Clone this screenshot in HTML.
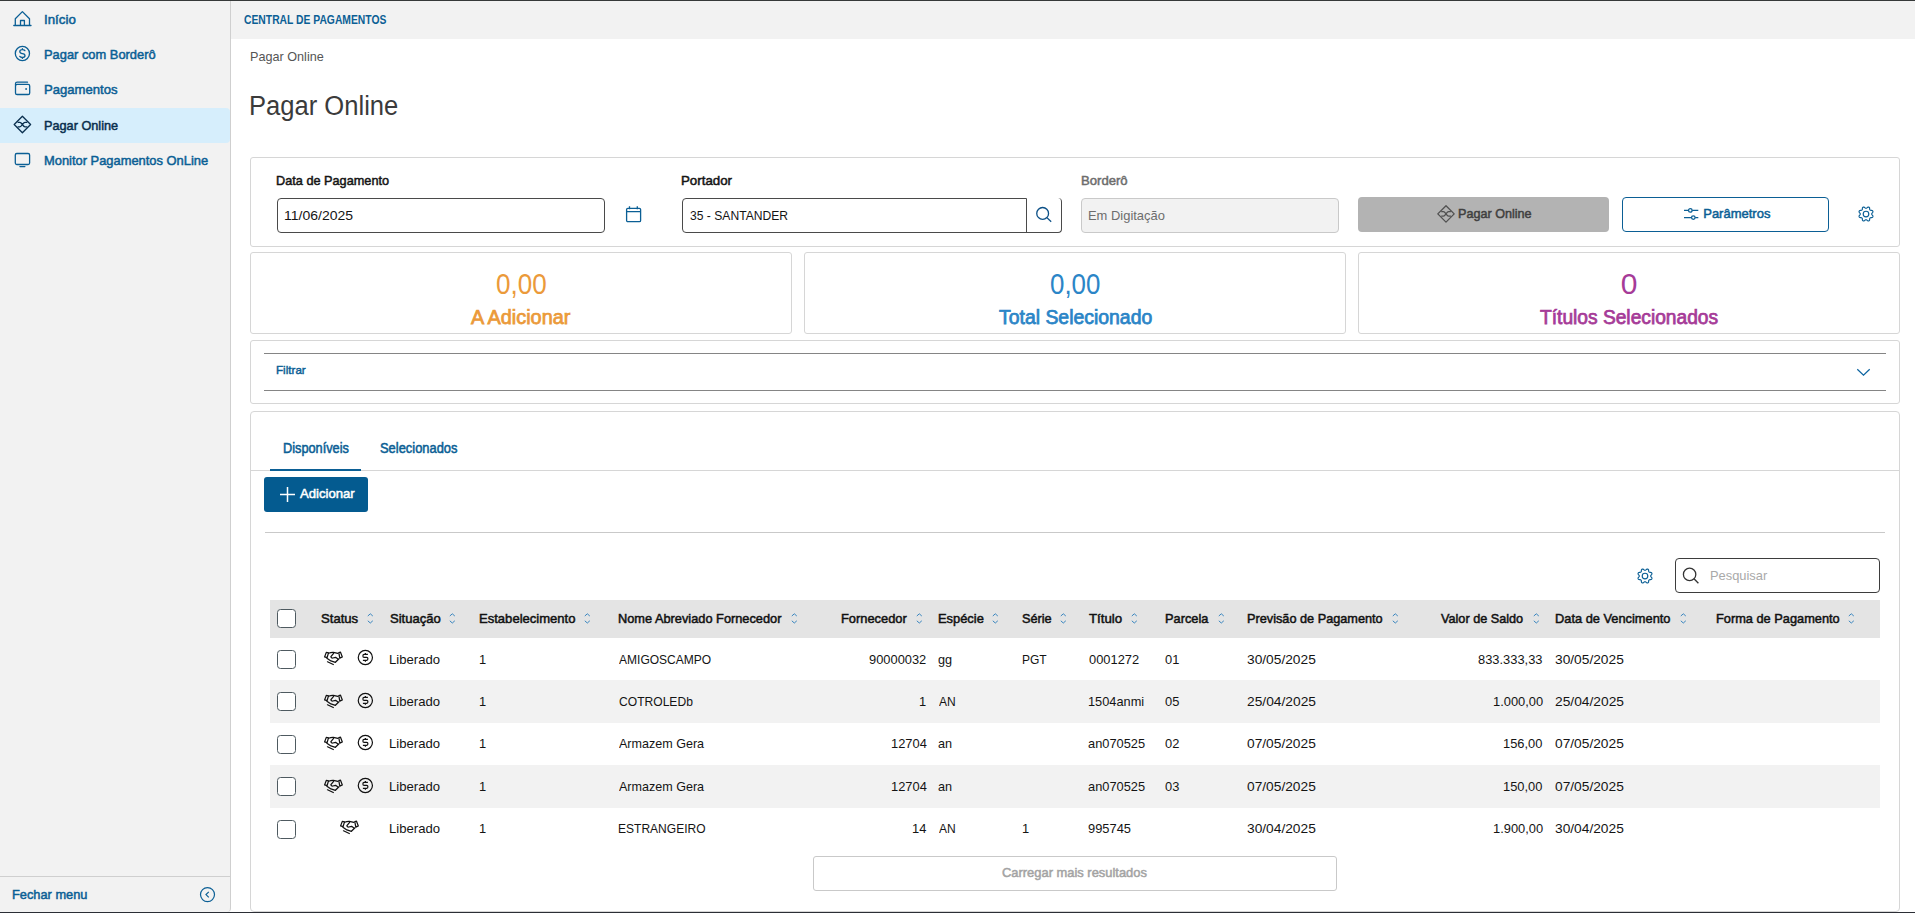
<!DOCTYPE html><html><head><meta charset="utf-8"><style>
html,body{margin:0;padding:0;width:1915px;height:913px;overflow:hidden;background:#fff}
.t{position:absolute;white-space:nowrap;line-height:0;transform-origin:0 0;font-family:"Liberation Sans",sans-serif}
svg{position:absolute}
</style></head><body>
<div style="position:absolute;left:0px;top:0px;width:1915px;height:913px;box-sizing:border-box;background:#fff"></div>
<div style="position:absolute;left:0px;top:1px;width:231px;height:911px;box-sizing:border-box;background:#f2f2f2;border-right:1px solid #cfcfcf;border-bottom-right-radius:4px"></div>
<div style="position:absolute;left:0px;top:876px;width:230px;height:1px;box-sizing:border-box;background:#cfcfcf"></div>
<div style="position:absolute;left:231px;top:1px;width:1684px;height:38px;box-sizing:border-box;background:#f2f2f2"></div>
<div style="position:absolute;left:0px;top:0px;width:1915px;height:1px;box-sizing:border-box;background:#363939"></div>
<div style="position:absolute;left:0px;top:912px;width:1915px;height:1px;box-sizing:border-box;background:#2b2e35"></div>
<div style="position:absolute;left:0px;top:108px;width:230px;height:35px;box-sizing:border-box;background:#d6eefc;border-top-right-radius:4px;border-bottom-right-radius:4px"></div>
<div class="t" style="left:43.78px;top:19.90px;font-size:13px;color:#0b5f95;font-weight:400;-webkit-text-stroke:0.500px #0b5f95;transform:scaleX(1.0225);">Início</div>
<div class="t" style="left:43.94px;top:54.70px;font-size:13px;color:#0b5f95;font-weight:400;-webkit-text-stroke:0.500px #0b5f95;transform:scaleX(0.9899);">Pagar com Borderô</div>
<div class="t" style="left:43.93px;top:89.50px;font-size:13px;color:#0b5f95;font-weight:400;-webkit-text-stroke:0.500px #0b5f95;transform:scaleX(1.0075);">Pagamentos</div>
<div class="t" style="left:43.96px;top:125.50px;font-size:13px;color:#0a2f4e;font-weight:400;-webkit-text-stroke:0.500px #0a2f4e;transform:scaleX(0.9765);">Pagar Online</div>
<div class="t" style="left:43.94px;top:161.00px;font-size:13px;color:#0b5f95;font-weight:400;-webkit-text-stroke:0.500px #0b5f95;transform:scaleX(0.9918);">Monitor Pagamentos OnLine</div>
<svg style="position:absolute;left:0px;top:0px;overflow:visible" width="40" height="180" viewBox="0 0 40 180">
<g fill="none" stroke="#0b5f95" stroke-width="1.3" stroke-linecap="round" stroke-linejoin="round">
<path d="M15.3 18.8 L22.4 11.6 L29.5 18.8 M15.3 18.8 V25.3 M29.5 18.8 V25.3 M13.8 25.5 H31 M20.5 25.3 V20.5 H24.4 V25.3"/>
<circle cx="22.4" cy="53.5" r="7.1"/>
<path d="M24.9 50.6 Q24.2 49.6 22.4 49.6 Q19.8 49.6 19.8 51.6 Q19.8 53.4 22.4 53.6 Q25 53.8 25 55.7 Q25 57.5 22.4 57.5 Q20.5 57.5 19.8 56.4 M22.4 48.7 V49.6 M22.4 57.5 V58.4"/>
<rect x="15.5" y="84.3" width="14.2" height="10.2" rx="1.6"/>
<path d="M15.5 85.5 V83.8 Q15.5 82.2 17.2 82.2 H27.5"/>
</g>
<circle cx="26.1" cy="89" r="0.9" fill="#0b5f95"/>
<g fill="none" stroke="#0a2f4e" stroke-width="1.3" stroke-linejoin="round">
<path d="M22.4 116.3 L30.6 124.5 L22.4 132.7 L14.2 124.5 Z"/>
<path d="M17.6 122.3 H19.8 Q20.8 122.3 22.4 124.5 Q24 126.8 25 126.8 H27.3 M17.6 126.8 H19.8 Q20.8 126.8 22.4 124.5 Q24 122.3 25 122.3 H27.3"/>
</g>
<g fill="none" stroke="#0b5f95" stroke-width="1.3" stroke-linecap="round" stroke-linejoin="round">
<rect x="15.3" y="153.5" width="14.3" height="11" rx="1.5"/>
<path d="M19.9 166.6 H24.9"/>
</g>
</svg>
<div class="t" style="left:11.95px;top:894.50px;font-size:13px;color:#0b5f95;font-weight:400;-webkit-text-stroke:0.500px #0b5f95;transform:scaleX(0.9845);">Fechar menu</div>
<svg style="position:absolute;left:199px;top:887px;overflow:visible" width="16" height="16" viewBox="0 0 16 16"><circle cx="8.5" cy="7.6" r="7" fill="none" stroke="#0b5f95" stroke-width="1.2"/><path d="M9.8 4.8 L7 7.6 L9.8 10.4" fill="none" stroke="#0b5f95" stroke-width="1.2"/></svg>
<div class="t" style="left:243.88px;top:20.04px;font-size:12.3px;color:#0b5f95;font-weight:700;transform:scaleX(0.8404);">CENTRAL DE PAGAMENTOS</div>
<div class="t" style="left:249.56px;top:56.90px;font-size:13px;color:#555;font-weight:400;transform:scaleX(0.9725);">Pagar Online</div>
<div class="t" style="left:248.50px;top:105.94px;font-size:27px;color:#3b3b3b;font-weight:400;transform:scaleX(0.9475);">Pagar Online</div>
<div style="position:absolute;left:250px;top:157px;width:1650px;height:90px;box-sizing:border-box;border:1px solid #d6d6d6;border-radius:3px"></div>
<div class="t" style="left:276.06px;top:181.10px;font-size:13px;color:#141414;font-weight:400;-webkit-text-stroke:0.500px #141414;transform:scaleX(0.9778);">Data de Pagamento</div>
<div style="position:absolute;left:277px;top:198px;width:328px;height:35px;box-sizing:border-box;border:1px solid #4a4a4a;border-radius:4px"></div>
<div class="t" style="left:283.54px;top:215.70px;font-size:13px;color:#141414;font-weight:400;transform:scaleX(1.0770);">11/06/2025</div>
<svg style="position:absolute;left:624px;top:205px;overflow:visible" width="19" height="19" viewBox="0 0 19 19"><g fill="none" stroke="#0b5f95" stroke-width="1.3"><rect x="2.6" y="3.3" width="14" height="13.3" rx="1.2"/><path d="M2.6 6.7 H16.6 M5.5 1.2 V4.3 M13.3 1.2 V4.3"/></g></svg>
<div class="t" style="left:681.31px;top:181.00px;font-size:13px;color:#141414;font-weight:400;-webkit-text-stroke:0.500px #141414;transform:scaleX(1.0230);">Portador</div>
<div style="position:absolute;left:682px;top:198px;width:345px;height:35px;box-sizing:border-box;border:1px solid #4a4a4a;border-radius:4px 0 0 4px"></div>
<div style="position:absolute;left:1026px;top:198px;width:36px;height:35px;box-sizing:border-box;border-right:1px solid #4a4a4a;border-bottom:1px solid #4a4a4a;border-radius:0 4px 4px 0"></div>
<div class="t" style="left:689.74px;top:215.70px;font-size:13px;color:#141414;font-weight:400;transform:scaleX(0.9315);">35 - SANTANDER</div>
<svg style="position:absolute;left:1034px;top:205px;overflow:visible" width="19" height="19" viewBox="0 0 19 19"><g fill="none" stroke="#0b4f86" stroke-width="1.3"><circle cx="8.65" cy="8.4" r="5.9"/><path d="M12.9 12.6 L17.2 16.8"/></g></svg>
<div class="t" style="left:1080.93px;top:181.00px;font-size:13px;color:#6d6d6d;font-weight:400;-webkit-text-stroke:0.500px #6d6d6d;transform:scaleX(1.0077);">Borderô</div>
<div style="position:absolute;left:1081px;top:198px;width:258px;height:35px;box-sizing:border-box;border:1px solid #c9c9c9;border-radius:4px;background:#f2f2f2"></div>
<div class="t" style="left:1087.94px;top:215.70px;font-size:13px;color:#6d6d6d;font-weight:400;transform:scaleX(0.9946);">Em Digitação</div>
<div style="position:absolute;left:1358px;top:197px;width:251px;height:35px;box-sizing:border-box;background:#b3b3b3;border-radius:4px"></div>
<svg style="position:absolute;left:1436px;top:204px;overflow:visible" width="20" height="20" viewBox="0 0 20 20"><g fill="none" stroke="#505050" stroke-width="1.3" stroke-linejoin="round"><path d="M10 1.7 L18.2 9.9 L10 18.1 L1.8 9.9 Z"/><path d="M5.2 7.7 H7.4 Q8.4 7.7 10 9.9 Q11.6 12.2 12.6 12.2 H14.9 M5.2 12.2 H7.4 Q8.4 12.2 10 9.9 Q11.6 7.7 12.6 7.7 H14.9"/></g></svg>
<div class="t" style="left:1458.17px;top:214.00px;font-size:13px;color:#404040;font-weight:400;-webkit-text-stroke:0.500px #404040;transform:scaleX(0.9698);">Pagar Online</div>
<div style="position:absolute;left:1622px;top:197px;width:207px;height:35px;box-sizing:border-box;border:1px solid #0b5f95;border-radius:4px"></div>
<svg style="position:absolute;left:1682px;top:205px;overflow:visible" width="18" height="18" viewBox="0 0 18 18"><g fill="none" stroke="#0b5f95" stroke-width="1.3"><path d="M2 5.4 H6.5 M10.2 5.4 H16.3 M2 12.6 H9.5 M13.2 12.6 H16.3"/><circle cx="8.3" cy="5.4" r="1.8"/><circle cx="11.3" cy="12.6" r="1.8"/></g></svg>
<div class="t" style="left:1703.23px;top:214.00px;font-size:13px;color:#0b5f95;font-weight:400;-webkit-text-stroke:0.500px #0b5f95;">Parâmetros</div>
<svg style="position:absolute;left:1856.5px;top:204.5px;overflow:visible" width="18" height="18" viewBox="0 0 18 18"><g fill="none" stroke="#0b5f95" stroke-width="1.15" stroke-linejoin="round"><path d="M9.00 3.30 L9.30 3.27 L9.62 3.15 L9.97 2.87 L10.39 2.47 L10.83 2.16 L11.26 2.05 L11.65 2.10 L12.01 2.25 L12.32 2.49 L12.54 2.87 L12.63 3.40 L12.65 3.98 L12.70 4.43 L12.84 4.73 L13.03 4.97 L13.27 5.16 L13.57 5.30 L14.02 5.35 L14.60 5.37 L15.13 5.46 L15.51 5.68 L15.75 5.99 L15.90 6.35 L15.95 6.74 L15.84 7.17 L15.53 7.61 L15.13 8.03 L14.85 8.38 L14.73 8.70 L14.70 9.00 L14.73 9.30 L14.85 9.62 L15.13 9.97 L15.53 10.39 L15.84 10.83 L15.95 11.26 L15.90 11.65 L15.75 12.01 L15.51 12.32 L15.13 12.54 L14.60 12.63 L14.02 12.65 L13.57 12.70 L13.27 12.84 L13.03 13.03 L12.84 13.27 L12.70 13.57 L12.65 14.02 L12.63 14.60 L12.54 15.13 L12.32 15.51 L12.01 15.75 L11.65 15.90 L11.26 15.95 L10.83 15.84 L10.39 15.53 L9.97 15.13 L9.62 14.85 L9.30 14.73 L9.00 14.70 L8.70 14.73 L8.38 14.85 L8.03 15.13 L7.61 15.53 L7.17 15.84 L6.74 15.95 L6.35 15.90 L5.99 15.75 L5.68 15.51 L5.46 15.13 L5.37 14.60 L5.35 14.02 L5.30 13.57 L5.16 13.27 L4.97 13.03 L4.73 12.84 L4.43 12.70 L3.98 12.65 L3.40 12.63 L2.87 12.54 L2.49 12.32 L2.25 12.01 L2.10 11.65 L2.05 11.26 L2.16 10.83 L2.47 10.39 L2.87 9.97 L3.15 9.62 L3.27 9.30 L3.30 9.00 L3.27 8.70 L3.15 8.38 L2.87 8.03 L2.47 7.61 L2.16 7.17 L2.05 6.74 L2.10 6.35 L2.25 5.99 L2.49 5.68 L2.87 5.46 L3.40 5.37 L3.98 5.35 L4.43 5.30 L4.73 5.16 L4.97 4.97 L5.16 4.73 L5.30 4.43 L5.35 3.98 L5.37 3.40 L5.46 2.87 L5.68 2.49 L5.99 2.25 L6.35 2.10 L6.74 2.05 L7.17 2.16 L7.61 2.47 L8.03 2.87 L8.38 3.15 L8.70 3.27 Z"/><circle cx="9" cy="9" r="2.8"/></g></svg>
<div style="position:absolute;left:250px;top:252px;width:542px;height:82px;box-sizing:border-box;border:1px solid #d6d6d6;border-radius:3px"></div>
<div class="t" style="left:495.63px;top:284.41px;font-size:30px;color:#eb9a3a;font-weight:400;transform:scaleX(0.8686);">0,00</div>
<div class="t" style="left:471.46px;top:317.24px;font-size:19.5px;color:#eb9a3a;font-weight:400;-webkit-text-stroke:0.750px #eb9a3a;transform:scaleX(1.0184);">A Adicionar</div>
<div style="position:absolute;left:804px;top:252px;width:542px;height:82px;box-sizing:border-box;border:1px solid #d6d6d6;border-radius:3px"></div>
<div class="t" style="left:1049.79px;top:284.41px;font-size:30px;color:#2b85c7;font-weight:400;transform:scaleX(0.8632);">0,00</div>
<div class="t" style="left:998.57px;top:317.24px;font-size:19.5px;color:#2b85c7;font-weight:400;-webkit-text-stroke:0.750px #2b85c7;transform:scaleX(0.9954);">Total Selecionado</div>
<div style="position:absolute;left:1358px;top:252px;width:542px;height:82px;box-sizing:border-box;border:1px solid #d6d6d6;border-radius:3px"></div>
<div class="t" style="left:1620.64px;top:284.41px;font-size:30px;color:#a63b98;font-weight:400;">0</div>
<div class="t" style="left:1540.08px;top:317.24px;font-size:19.5px;color:#a63b98;font-weight:400;-webkit-text-stroke:0.750px #a63b98;transform:scaleX(0.9839);">Títulos Selecionados</div>
<div style="position:absolute;left:250px;top:340px;width:1650px;height:64px;box-sizing:border-box;border:1px solid #d6d6d6;border-radius:3px"></div>
<div style="position:absolute;left:264px;top:353px;width:1622px;height:1px;box-sizing:border-box;background:#858585"></div>
<div style="position:absolute;left:264px;top:390px;width:1622px;height:1px;box-sizing:border-box;background:#858585"></div>
<div class="t" style="left:275.95px;top:370.02px;font-size:11.5px;color:#0b5f95;font-weight:400;-webkit-text-stroke:0.442px #0b5f95;transform:scaleX(1.0122);">Filtrar</div>
<svg style="position:absolute;left:1856px;top:367px;overflow:visible" width="15" height="10" viewBox="0 0 15 10"><path d="M1.3 2.3 L7.5 8.1 L13.7 2.3" fill="none" stroke="#0c64a0" stroke-width="1.25"/></svg>
<div style="position:absolute;left:250px;top:411px;width:1650px;height:501px;box-sizing:border-box;border:1px solid #d6d6d6;border-radius:4px"></div>
<div class="t" style="left:282.85px;top:448.25px;font-size:14px;color:#0b5f95;font-weight:400;-webkit-text-stroke:0.538px #0b5f95;transform:scaleX(0.9107);">Disponíveis</div>
<div class="t" style="left:379.82px;top:448.25px;font-size:14px;color:#0b5f95;font-weight:400;-webkit-text-stroke:0.538px #0b5f95;transform:scaleX(0.9213);">Selecionados</div>
<div style="position:absolute;left:251px;top:470px;width:1648px;height:1px;box-sizing:border-box;background:#d6d6d6"></div>
<div style="position:absolute;left:270px;top:469px;width:91px;height:2px;box-sizing:border-box;background:#0b5f95"></div>
<div style="position:absolute;left:264px;top:477px;width:104px;height:35px;box-sizing:border-box;background:#045b90;border-radius:3px"></div>
<svg style="position:absolute;left:279px;top:486px;overflow:visible" width="17" height="17" viewBox="0 0 17 17"><path d="M8.5 1 V16 M1 8.5 H16" stroke="#fff" stroke-width="1.5" fill="none"/></svg>
<div class="t" style="left:299.97px;top:494.00px;font-size:13px;color:#fff;font-weight:400;-webkit-text-stroke:0.500px #fff;transform:scaleX(1.0100);">Adicionar</div>
<div style="position:absolute;left:265px;top:532px;width:1620px;height:1px;box-sizing:border-box;background:#c9c9c9"></div>
<svg style="position:absolute;left:1636.2px;top:566.5px;overflow:visible" width="18" height="18" viewBox="0 0 18 18"><g fill="none" stroke="#0b5f95" stroke-width="1.15" stroke-linejoin="round"><path d="M9.00 3.30 L9.30 3.27 L9.62 3.15 L9.97 2.87 L10.39 2.47 L10.83 2.16 L11.26 2.05 L11.65 2.10 L12.01 2.25 L12.32 2.49 L12.54 2.87 L12.63 3.40 L12.65 3.98 L12.70 4.43 L12.84 4.73 L13.03 4.97 L13.27 5.16 L13.57 5.30 L14.02 5.35 L14.60 5.37 L15.13 5.46 L15.51 5.68 L15.75 5.99 L15.90 6.35 L15.95 6.74 L15.84 7.17 L15.53 7.61 L15.13 8.03 L14.85 8.38 L14.73 8.70 L14.70 9.00 L14.73 9.30 L14.85 9.62 L15.13 9.97 L15.53 10.39 L15.84 10.83 L15.95 11.26 L15.90 11.65 L15.75 12.01 L15.51 12.32 L15.13 12.54 L14.60 12.63 L14.02 12.65 L13.57 12.70 L13.27 12.84 L13.03 13.03 L12.84 13.27 L12.70 13.57 L12.65 14.02 L12.63 14.60 L12.54 15.13 L12.32 15.51 L12.01 15.75 L11.65 15.90 L11.26 15.95 L10.83 15.84 L10.39 15.53 L9.97 15.13 L9.62 14.85 L9.30 14.73 L9.00 14.70 L8.70 14.73 L8.38 14.85 L8.03 15.13 L7.61 15.53 L7.17 15.84 L6.74 15.95 L6.35 15.90 L5.99 15.75 L5.68 15.51 L5.46 15.13 L5.37 14.60 L5.35 14.02 L5.30 13.57 L5.16 13.27 L4.97 13.03 L4.73 12.84 L4.43 12.70 L3.98 12.65 L3.40 12.63 L2.87 12.54 L2.49 12.32 L2.25 12.01 L2.10 11.65 L2.05 11.26 L2.16 10.83 L2.47 10.39 L2.87 9.97 L3.15 9.62 L3.27 9.30 L3.30 9.00 L3.27 8.70 L3.15 8.38 L2.87 8.03 L2.47 7.61 L2.16 7.17 L2.05 6.74 L2.10 6.35 L2.25 5.99 L2.49 5.68 L2.87 5.46 L3.40 5.37 L3.98 5.35 L4.43 5.30 L4.73 5.16 L4.97 4.97 L5.16 4.73 L5.30 4.43 L5.35 3.98 L5.37 3.40 L5.46 2.87 L5.68 2.49 L5.99 2.25 L6.35 2.10 L6.74 2.05 L7.17 2.16 L7.61 2.47 L8.03 2.87 L8.38 3.15 L8.70 3.27 Z"/><circle cx="9" cy="9" r="2.8"/></g></svg>
<div style="position:absolute;left:1675px;top:558px;width:205px;height:35px;box-sizing:border-box;border:1px solid #3d3d3d;border-radius:4px"></div>
<svg style="position:absolute;left:1682px;top:567px;overflow:visible" width="19" height="19" viewBox="0 0 19 19"><g fill="none" stroke="#333" stroke-width="1.3"><circle cx="7.6" cy="7.4" r="6.2"/><path d="M12 11.8 L16.4 16.2"/></g></svg>
<div class="t" style="left:1710.34px;top:575.80px;font-size:13px;color:#a9a9a9;font-weight:400;transform:scaleX(0.9905);">Pesquisar</div>
<div style="position:absolute;left:270px;top:600px;width:1610px;height:37.8px;box-sizing:border-box;background:#e4e4e4"></div>
<div style="position:absolute;left:277px;top:609px;width:19px;height:19px;box-sizing:border-box;border:1.6px solid #4e5a60;border-radius:3.5px;background:#fff"></div>
<div class="t" style="left:320.91px;top:618.80px;font-size:13px;color:#111;font-weight:400;-webkit-text-stroke:0.500px #111;transform:scaleX(1.0083);">Status</div>
<svg style="position:absolute;left:367.4px;top:613.3px;overflow:visible" width="7" height="11" viewBox="0 0 7 11"><g fill="none" stroke="#2f7fbd" stroke-width="0.95"><path d="M0.8 3 L3.3 0.8 L5.8 3 M0.8 7.8 L3.3 10 L5.8 7.8"/></g></svg>
<div class="t" style="left:389.51px;top:618.80px;font-size:13px;color:#111;font-weight:400;-webkit-text-stroke:0.500px #111;transform:scaleX(1.0048);">Situação</div>
<svg style="position:absolute;left:449.3px;top:613.3px;overflow:visible" width="7" height="11" viewBox="0 0 7 11"><g fill="none" stroke="#2f7fbd" stroke-width="0.95"><path d="M0.8 3 L3.3 0.8 L5.8 3 M0.8 7.8 L3.3 10 L5.8 7.8"/></g></svg>
<div class="t" style="left:478.63px;top:618.80px;font-size:13px;color:#111;font-weight:400;-webkit-text-stroke:0.500px #111;transform:scaleX(1.0041);">Estabelecimento</div>
<svg style="position:absolute;left:584.1px;top:613.3px;overflow:visible" width="7" height="11" viewBox="0 0 7 11"><g fill="none" stroke="#2f7fbd" stroke-width="0.95"><path d="M0.8 3 L3.3 0.8 L5.8 3 M0.8 7.8 L3.3 10 L5.8 7.8"/></g></svg>
<div class="t" style="left:618.25px;top:618.80px;font-size:13px;color:#111;font-weight:400;-webkit-text-stroke:0.500px #111;transform:scaleX(0.9834);">Nome Abreviado Fornecedor</div>
<svg style="position:absolute;left:791.0px;top:613.3px;overflow:visible" width="7" height="11" viewBox="0 0 7 11"><g fill="none" stroke="#2f7fbd" stroke-width="0.95"><path d="M0.8 3 L3.3 0.8 L5.8 3 M0.8 7.8 L3.3 10 L5.8 7.8"/></g></svg>
<div class="t" style="left:840.95px;top:618.80px;font-size:13px;color:#111;font-weight:400;-webkit-text-stroke:0.500px #111;transform:scaleX(0.9891);">Fornecedor</div>
<svg style="position:absolute;left:915.9px;top:613.3px;overflow:visible" width="7" height="11" viewBox="0 0 7 11"><g fill="none" stroke="#2f7fbd" stroke-width="0.95"><path d="M0.8 3 L3.3 0.8 L5.8 3 M0.8 7.8 L3.3 10 L5.8 7.8"/></g></svg>
<div class="t" style="left:937.74px;top:618.80px;font-size:13px;color:#111;font-weight:400;-webkit-text-stroke:0.500px #111;transform:scaleX(0.9910);">Espécie</div>
<svg style="position:absolute;left:992.4px;top:613.3px;overflow:visible" width="7" height="11" viewBox="0 0 7 11"><g fill="none" stroke="#2f7fbd" stroke-width="0.95"><path d="M0.8 3 L3.3 0.8 L5.8 3 M0.8 7.8 L3.3 10 L5.8 7.8"/></g></svg>
<div class="t" style="left:1021.93px;top:618.80px;font-size:13px;color:#111;font-weight:400;-webkit-text-stroke:0.500px #111;transform:scaleX(0.9765);">Série</div>
<svg style="position:absolute;left:1060.4px;top:613.3px;overflow:visible" width="7" height="11" viewBox="0 0 7 11"><g fill="none" stroke="#2f7fbd" stroke-width="0.95"><path d="M0.8 3 L3.3 0.8 L5.8 3 M0.8 7.8 L3.3 10 L5.8 7.8"/></g></svg>
<div class="t" style="left:1088.71px;top:618.80px;font-size:13px;color:#111;font-weight:400;-webkit-text-stroke:0.500px #111;transform:scaleX(1.0191);">Título</div>
<svg style="position:absolute;left:1130.5px;top:613.3px;overflow:visible" width="7" height="11" viewBox="0 0 7 11"><g fill="none" stroke="#2f7fbd" stroke-width="0.95"><path d="M0.8 3 L3.3 0.8 L5.8 3 M0.8 7.8 L3.3 10 L5.8 7.8"/></g></svg>
<div class="t" style="left:1164.75px;top:618.80px;font-size:13px;color:#111;font-weight:400;-webkit-text-stroke:0.500px #111;transform:scaleX(0.9830);">Parcela</div>
<svg style="position:absolute;left:1217.5px;top:613.3px;overflow:visible" width="7" height="11" viewBox="0 0 7 11"><g fill="none" stroke="#2f7fbd" stroke-width="0.95"><path d="M0.8 3 L3.3 0.8 L5.8 3 M0.8 7.8 L3.3 10 L5.8 7.8"/></g></svg>
<div class="t" style="left:1246.86px;top:618.80px;font-size:13px;color:#111;font-weight:400;-webkit-text-stroke:0.500px #111;transform:scaleX(0.9778);">Previsão de Pagamento</div>
<svg style="position:absolute;left:1391.5px;top:613.3px;overflow:visible" width="7" height="11" viewBox="0 0 7 11"><g fill="none" stroke="#2f7fbd" stroke-width="0.95"><path d="M0.8 3 L3.3 0.8 L5.8 3 M0.8 7.8 L3.3 10 L5.8 7.8"/></g></svg>
<div class="t" style="left:1441.35px;top:618.80px;font-size:13px;color:#111;font-weight:400;-webkit-text-stroke:0.500px #111;transform:scaleX(0.9745);">Valor de Saldo</div>
<svg style="position:absolute;left:1532.5px;top:613.3px;overflow:visible" width="7" height="11" viewBox="0 0 7 11"><g fill="none" stroke="#2f7fbd" stroke-width="0.95"><path d="M0.8 3 L3.3 0.8 L5.8 3 M0.8 7.8 L3.3 10 L5.8 7.8"/></g></svg>
<div class="t" style="left:1554.85px;top:618.80px;font-size:13px;color:#111;font-weight:400;-webkit-text-stroke:0.500px #111;transform:scaleX(0.9863);">Data de Vencimento</div>
<svg style="position:absolute;left:1679.5px;top:613.3px;overflow:visible" width="7" height="11" viewBox="0 0 7 11"><g fill="none" stroke="#2f7fbd" stroke-width="0.95"><path d="M0.8 3 L3.3 0.8 L5.8 3 M0.8 7.8 L3.3 10 L5.8 7.8"/></g></svg>
<div class="t" style="left:1715.65px;top:618.80px;font-size:13px;color:#111;font-weight:400;-webkit-text-stroke:0.500px #111;transform:scaleX(0.9836);">Forma de Pagamento</div>
<svg style="position:absolute;left:1848.3px;top:613.3px;overflow:visible" width="7" height="11" viewBox="0 0 7 11"><g fill="none" stroke="#2f7fbd" stroke-width="0.95"><path d="M0.8 3 L3.3 0.8 L5.8 3 M0.8 7.8 L3.3 10 L5.8 7.8"/></g></svg>
<div style="position:absolute;left:277px;top:649.8px;width:19px;height:19px;box-sizing:border-box;border:1.6px solid #4e5a60;border-radius:3.5px;background:#fff"></div>
<svg style="position:absolute;left:322px;top:649.3px;overflow:visible" width="22" height="18" viewBox="0 0 22 18"><g fill="none" stroke="#111" stroke-width="1.25" stroke-linejoin="round" stroke-linecap="round"><path d="M4.3 3.4 L6.5 3.8 L5.1 8.7 L2.6 7.9 Z M16.8 3.6 L18.5 3.2 L20.3 7.9 L17.8 9.1 Z"/><path d="M6.6 4.3 Q9 3.2 11.4 3.35 Q13.6 3.6 15.9 4.4 M11.6 4.3 L8.9 7.6 Q9.3 9.4 10.8 9 L13.6 8.3 L16.3 10.3 M4.9 9.2 L8.9 11.9 L13.4 13.3 L17 9.8 M5.5 12.8 L11.3 15.5"/></g></svg>
<svg style="position:absolute;left:355px;top:647.3px;overflow:visible" width="21" height="21" viewBox="0 0 21 21"><g fill="none" stroke="#111" stroke-width="1.2"><circle cx="10.35" cy="10.5" r="7.1"/><path d="M12.9 7.4 H9.1 Q7.9 7.4 7.9 8.9 Q7.9 10.4 9.1 10.4 H11.7 Q12.9 10.4 12.9 11.85 Q12.9 13.3 11.7 13.3 H7.9 M10.4 6.1 V7.4 M10.4 13.3 V14.7"/></g></svg>
<div class="t" style="left:389.03px;top:659.60px;font-size:13px;color:#141414;font-weight:400;transform:scaleX(1.0082);">Liberado</div>
<div class="t" style="left:479.32px;top:659.60px;font-size:13px;color:#141414;font-weight:400;transform:scaleX(0.9900);">1</div>
<div class="t" style="left:619.28px;top:659.60px;font-size:13px;color:#141414;font-weight:400;transform:scaleX(0.9250);">AMIGOSCAMPO</div>
<div class="t" style="left:869.38px;top:659.60px;font-size:13px;color:#141414;font-weight:400;transform:scaleX(0.9900);">90000032</div>
<div class="t" style="left:938.27px;top:659.60px;font-size:13px;color:#141414;font-weight:400;transform:scaleX(0.9750);">gg</div>
<div class="t" style="left:1021.51px;top:659.60px;font-size:13px;color:#141414;font-weight:400;transform:scaleX(0.9250);">PGT</div>
<div class="t" style="left:1088.50px;top:659.60px;font-size:13px;color:#141414;font-weight:400;transform:scaleX(0.9900);">0001272</div>
<div class="t" style="left:1165.30px;top:659.60px;font-size:13px;color:#141414;font-weight:400;transform:scaleX(0.9900);">01</div>
<div class="t" style="left:1247.38px;top:659.60px;font-size:13px;color:#141414;font-weight:400;transform:scaleX(1.0572);">30/05/2025</div>
<div class="t" style="left:1478.37px;top:659.60px;font-size:13px;color:#141414;font-weight:400;transform:scaleX(0.9911);">833.333,33</div>
<div class="t" style="left:1555.48px;top:659.60px;font-size:13px;color:#141414;font-weight:400;transform:scaleX(1.0572);">30/05/2025</div>
<div style="position:absolute;left:270px;top:680px;width:1610px;height:42.5px;box-sizing:border-box;background:#f2f2f2"></div>
<div style="position:absolute;left:277px;top:692px;width:19px;height:19px;box-sizing:border-box;border:1.6px solid #4e5a60;border-radius:3.5px;background:#fff"></div>
<svg style="position:absolute;left:322px;top:691.5px;overflow:visible" width="22" height="18" viewBox="0 0 22 18"><g fill="none" stroke="#111" stroke-width="1.25" stroke-linejoin="round" stroke-linecap="round"><path d="M4.3 3.4 L6.5 3.8 L5.1 8.7 L2.6 7.9 Z M16.8 3.6 L18.5 3.2 L20.3 7.9 L17.8 9.1 Z"/><path d="M6.6 4.3 Q9 3.2 11.4 3.35 Q13.6 3.6 15.9 4.4 M11.6 4.3 L8.9 7.6 Q9.3 9.4 10.8 9 L13.6 8.3 L16.3 10.3 M4.9 9.2 L8.9 11.9 L13.4 13.3 L17 9.8 M5.5 12.8 L11.3 15.5"/></g></svg>
<svg style="position:absolute;left:355px;top:689.5px;overflow:visible" width="21" height="21" viewBox="0 0 21 21"><g fill="none" stroke="#111" stroke-width="1.2"><circle cx="10.35" cy="10.5" r="7.1"/><path d="M12.9 7.4 H9.1 Q7.9 7.4 7.9 8.9 Q7.9 10.4 9.1 10.4 H11.7 Q12.9 10.4 12.9 11.85 Q12.9 13.3 11.7 13.3 H7.9 M10.4 6.1 V7.4 M10.4 13.3 V14.7"/></g></svg>
<div class="t" style="left:389.03px;top:701.80px;font-size:13px;color:#141414;font-weight:400;transform:scaleX(1.0082);">Liberado</div>
<div class="t" style="left:479.32px;top:701.80px;font-size:13px;color:#141414;font-weight:400;transform:scaleX(0.9900);">1</div>
<div class="t" style="left:618.70px;top:701.80px;font-size:13px;color:#141414;font-weight:400;transform:scaleX(0.9295);">COTROLEDb</div>
<div class="t" style="left:919.46px;top:701.80px;font-size:13px;color:#141414;font-weight:400;transform:scaleX(0.9900);">1</div>
<div class="t" style="left:938.78px;top:701.80px;font-size:13px;color:#141414;font-weight:400;transform:scaleX(0.9250);">AN</div>
<div class="t" style="left:1088.03px;top:701.80px;font-size:13px;color:#141414;font-weight:400;transform:scaleX(0.9826);">1504anmi</div>
<div class="t" style="left:1165.30px;top:701.80px;font-size:13px;color:#141414;font-weight:400;transform:scaleX(0.9900);">05</div>
<div class="t" style="left:1247.21px;top:701.80px;font-size:13px;color:#141414;font-weight:400;transform:scaleX(1.0598);">25/04/2025</div>
<div class="t" style="left:1492.63px;top:701.80px;font-size:13px;color:#141414;font-weight:400;transform:scaleX(0.9914);">1.000,00</div>
<div class="t" style="left:1555.31px;top:701.80px;font-size:13px;color:#141414;font-weight:400;transform:scaleX(1.0598);">25/04/2025</div>
<div style="position:absolute;left:277px;top:734.5px;width:19px;height:19px;box-sizing:border-box;border:1.6px solid #4e5a60;border-radius:3.5px;background:#fff"></div>
<svg style="position:absolute;left:322px;top:734.0px;overflow:visible" width="22" height="18" viewBox="0 0 22 18"><g fill="none" stroke="#111" stroke-width="1.25" stroke-linejoin="round" stroke-linecap="round"><path d="M4.3 3.4 L6.5 3.8 L5.1 8.7 L2.6 7.9 Z M16.8 3.6 L18.5 3.2 L20.3 7.9 L17.8 9.1 Z"/><path d="M6.6 4.3 Q9 3.2 11.4 3.35 Q13.6 3.6 15.9 4.4 M11.6 4.3 L8.9 7.6 Q9.3 9.4 10.8 9 L13.6 8.3 L16.3 10.3 M4.9 9.2 L8.9 11.9 L13.4 13.3 L17 9.8 M5.5 12.8 L11.3 15.5"/></g></svg>
<svg style="position:absolute;left:355px;top:732.0px;overflow:visible" width="21" height="21" viewBox="0 0 21 21"><g fill="none" stroke="#111" stroke-width="1.2"><circle cx="10.35" cy="10.5" r="7.1"/><path d="M12.9 7.4 H9.1 Q7.9 7.4 7.9 8.9 Q7.9 10.4 9.1 10.4 H11.7 Q12.9 10.4 12.9 11.85 Q12.9 13.3 11.7 13.3 H7.9 M10.4 6.1 V7.4 M10.4 13.3 V14.7"/></g></svg>
<div class="t" style="left:389.03px;top:744.30px;font-size:13px;color:#141414;font-weight:400;transform:scaleX(1.0082);">Liberado</div>
<div class="t" style="left:479.32px;top:744.30px;font-size:13px;color:#141414;font-weight:400;transform:scaleX(0.9900);">1</div>
<div class="t" style="left:619.27px;top:744.30px;font-size:13px;color:#141414;font-weight:400;transform:scaleX(0.9654);">Armazem Gera</div>
<div class="t" style="left:890.58px;top:744.30px;font-size:13px;color:#141414;font-weight:400;transform:scaleX(0.9900);">12704</div>
<div class="t" style="left:938.27px;top:744.30px;font-size:13px;color:#141414;font-weight:400;transform:scaleX(0.9750);">an</div>
<div class="t" style="left:1088.46px;top:744.30px;font-size:13px;color:#141414;font-weight:400;transform:scaleX(0.9862);">an070525</div>
<div class="t" style="left:1165.30px;top:744.30px;font-size:13px;color:#141414;font-weight:400;transform:scaleX(0.9900);">02</div>
<div class="t" style="left:1247.36px;top:744.30px;font-size:13px;color:#141414;font-weight:400;transform:scaleX(1.0574);">07/05/2025</div>
<div class="t" style="left:1503.40px;top:744.30px;font-size:13px;color:#141414;font-weight:400;transform:scaleX(0.9909);">156,00</div>
<div class="t" style="left:1555.46px;top:744.30px;font-size:13px;color:#141414;font-weight:400;transform:scaleX(1.0574);">07/05/2025</div>
<div style="position:absolute;left:270px;top:765px;width:1610px;height:42.5px;box-sizing:border-box;background:#f2f2f2"></div>
<div style="position:absolute;left:277px;top:777px;width:19px;height:19px;box-sizing:border-box;border:1.6px solid #4e5a60;border-radius:3.5px;background:#fff"></div>
<svg style="position:absolute;left:322px;top:776.5px;overflow:visible" width="22" height="18" viewBox="0 0 22 18"><g fill="none" stroke="#111" stroke-width="1.25" stroke-linejoin="round" stroke-linecap="round"><path d="M4.3 3.4 L6.5 3.8 L5.1 8.7 L2.6 7.9 Z M16.8 3.6 L18.5 3.2 L20.3 7.9 L17.8 9.1 Z"/><path d="M6.6 4.3 Q9 3.2 11.4 3.35 Q13.6 3.6 15.9 4.4 M11.6 4.3 L8.9 7.6 Q9.3 9.4 10.8 9 L13.6 8.3 L16.3 10.3 M4.9 9.2 L8.9 11.9 L13.4 13.3 L17 9.8 M5.5 12.8 L11.3 15.5"/></g></svg>
<svg style="position:absolute;left:355px;top:774.5px;overflow:visible" width="21" height="21" viewBox="0 0 21 21"><g fill="none" stroke="#111" stroke-width="1.2"><circle cx="10.35" cy="10.5" r="7.1"/><path d="M12.9 7.4 H9.1 Q7.9 7.4 7.9 8.9 Q7.9 10.4 9.1 10.4 H11.7 Q12.9 10.4 12.9 11.85 Q12.9 13.3 11.7 13.3 H7.9 M10.4 6.1 V7.4 M10.4 13.3 V14.7"/></g></svg>
<div class="t" style="left:389.03px;top:786.80px;font-size:13px;color:#141414;font-weight:400;transform:scaleX(1.0082);">Liberado</div>
<div class="t" style="left:479.32px;top:786.80px;font-size:13px;color:#141414;font-weight:400;transform:scaleX(0.9900);">1</div>
<div class="t" style="left:619.27px;top:786.80px;font-size:13px;color:#141414;font-weight:400;transform:scaleX(0.9654);">Armazem Gera</div>
<div class="t" style="left:890.58px;top:786.80px;font-size:13px;color:#141414;font-weight:400;transform:scaleX(0.9900);">12704</div>
<div class="t" style="left:938.27px;top:786.80px;font-size:13px;color:#141414;font-weight:400;transform:scaleX(0.9750);">an</div>
<div class="t" style="left:1088.46px;top:786.80px;font-size:13px;color:#141414;font-weight:400;transform:scaleX(0.9862);">an070525</div>
<div class="t" style="left:1165.30px;top:786.80px;font-size:13px;color:#141414;font-weight:400;transform:scaleX(0.9900);">03</div>
<div class="t" style="left:1247.36px;top:786.80px;font-size:13px;color:#141414;font-weight:400;transform:scaleX(1.0574);">07/05/2025</div>
<div class="t" style="left:1503.40px;top:786.80px;font-size:13px;color:#141414;font-weight:400;transform:scaleX(0.9909);">150,00</div>
<div class="t" style="left:1555.46px;top:786.80px;font-size:13px;color:#141414;font-weight:400;transform:scaleX(1.0574);">07/05/2025</div>
<div style="position:absolute;left:277px;top:819.5px;width:19px;height:19px;box-sizing:border-box;border:1.6px solid #4e5a60;border-radius:3.5px;background:#fff"></div>
<svg style="position:absolute;left:338px;top:818.3px;overflow:visible" width="22" height="18" viewBox="0 0 22 18"><g fill="none" stroke="#111" stroke-width="1.25" stroke-linejoin="round" stroke-linecap="round"><path d="M4.3 3.4 L6.5 3.8 L5.1 8.7 L2.6 7.9 Z M16.8 3.6 L18.5 3.2 L20.3 7.9 L17.8 9.1 Z"/><path d="M6.6 4.3 Q9 3.2 11.4 3.35 Q13.6 3.6 15.9 4.4 M11.6 4.3 L8.9 7.6 Q9.3 9.4 10.8 9 L13.6 8.3 L16.3 10.3 M4.9 9.2 L8.9 11.9 L13.4 13.3 L17 9.8 M5.5 12.8 L11.3 15.5"/></g></svg>
<div class="t" style="left:389.03px;top:829.30px;font-size:13px;color:#141414;font-weight:400;transform:scaleX(1.0082);">Liberado</div>
<div class="t" style="left:479.32px;top:829.30px;font-size:13px;color:#141414;font-weight:400;transform:scaleX(0.9900);">1</div>
<div class="t" style="left:618.31px;top:829.30px;font-size:13px;color:#141414;font-weight:400;transform:scaleX(0.9250);">ESTRANGEIRO</div>
<div class="t" style="left:912.06px;top:829.30px;font-size:13px;color:#141414;font-weight:400;transform:scaleX(0.9900);">14</div>
<div class="t" style="left:938.78px;top:829.30px;font-size:13px;color:#141414;font-weight:400;transform:scaleX(0.9250);">AN</div>
<div class="t" style="left:1021.52px;top:829.30px;font-size:13px;color:#141414;font-weight:400;transform:scaleX(0.9900);">1</div>
<div class="t" style="left:1088.41px;top:829.30px;font-size:13px;color:#141414;font-weight:400;transform:scaleX(0.9900);">995745</div>
<div class="t" style="left:1247.38px;top:829.30px;font-size:13px;color:#141414;font-weight:400;transform:scaleX(1.0572);">30/04/2025</div>
<div class="t" style="left:1492.63px;top:829.30px;font-size:13px;color:#141414;font-weight:400;transform:scaleX(0.9914);">1.900,00</div>
<div class="t" style="left:1555.48px;top:829.30px;font-size:13px;color:#141414;font-weight:400;transform:scaleX(1.0572);">30/04/2025</div>
<div style="position:absolute;left:813px;top:856px;width:524px;height:35px;box-sizing:border-box;border:1px solid #c9c9c9;border-radius:3px"></div>
<div class="t" style="left:1001.95px;top:873.00px;font-size:13px;color:#a3a3a3;font-weight:400;-webkit-text-stroke:0.500px #a3a3a3;transform:scaleX(0.9929);">Carregar mais resultados</div>
</body></html>
